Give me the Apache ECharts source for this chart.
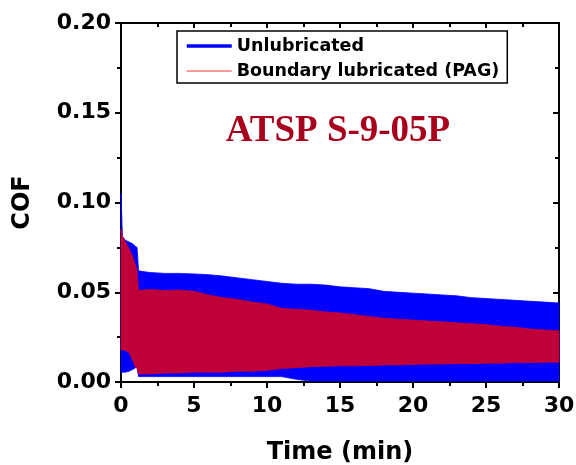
<!DOCTYPE html>
<html>
<head>
<meta charset="utf-8">
<script src="https://cdn.jsdelivr.net/npm/echarts@6/dist/echarts.min.js"></script>
<style>html,body{margin:0;padding:0;background:#fff;}#chart{width:576px;height:465px;}</style>
</head>
<body>
<div id="chart"></div>
<script>
// Time (min) sample points
var times = [0, 0.1, 0.3, 0.55, 0.8, 1.0, 1.1, 1.2, 1.5, 2, 3, 4, 5, 6, 7, 8, 9, 10, 11, 12, 13, 14, 15, 16, 17, 18, 19, 20, 21, 22, 23, 24, 25, 26, 27, 28, 29, 30];
// Unlubricated COF band (upper / lower envelope)
var unlubUpper = [0.105, 0.081, 0.079, 0.078, 0.077, 0.0755, 0.075, 0.062, 0.0615, 0.061, 0.0605, 0.0605, 0.0602, 0.0598, 0.059, 0.058, 0.057, 0.056, 0.055, 0.0545, 0.0545, 0.054, 0.053, 0.0525, 0.052, 0.0505, 0.050, 0.0495, 0.049, 0.0485, 0.048, 0.047, 0.0465, 0.046, 0.0455, 0.045, 0.0445, 0.044];
var unlubLower = [0.0055, 0.0055, 0.0055, 0.006, 0.007, 0.008, 0.008, 0.003, 0.003, 0.003, 0.003, 0.003, 0.003, 0.003, 0.003, 0.003, 0.003, 0.003, 0.003, 0.0015, 0.0005, 0.0005, 0.0005, 0.0005, 0.0005, 0.0005, 0.0005, 0.0005, 0.0005, 0.0005, 0.0005, 0.0005, 0.0005, 0.0005, 0.0005, 0.0005, 0.0005, 0.0005];
// Boundary lubricated (PAG) COF band (upper / lower envelope)
var pagUpper = [0.085, 0.081, 0.078, 0.0745, 0.070, 0.065, 0.062, 0.051, 0.0512, 0.0515, 0.051, 0.0512, 0.0505, 0.0485, 0.047, 0.046, 0.0445, 0.0435, 0.041, 0.0405, 0.040, 0.039, 0.0385, 0.0375, 0.0365, 0.0355, 0.035, 0.0345, 0.034, 0.0335, 0.033, 0.0325, 0.032, 0.031, 0.0305, 0.0295, 0.029, 0.0285];
var pagLower = [0.018, 0.0178, 0.0175, 0.0165, 0.012, 0.008, 0.008, 0.0045, 0.0045, 0.0045, 0.005, 0.005, 0.0055, 0.0055, 0.0055, 0.006, 0.006, 0.0065, 0.0075, 0.008, 0.0085, 0.0088, 0.009, 0.009, 0.0092, 0.0095, 0.0095, 0.0098, 0.01, 0.01, 0.0102, 0.0102, 0.0105, 0.0105, 0.0108, 0.0108, 0.011, 0.011];

var seriesNames = ['Unlubricated', 'Boundary lubricated (PAG)'];
var chartTitle = 'ATSP S-9-05P';
var xTitle = 'Time (min)';
var yTitle = 'COF';

var BLUE = '#0000ff', RED = '#c00038';
var font = 'DejaVu Sans';

// Band drawn as one polygon (upper envelope forward, lower envelope back), positioned via api.coord
function bandSeries(name, up, lo, color) {
  var data = times.map(function (t, i) { return [t, lo[i], up[i]]; });
  return {
    name: name, type: 'custom', silent: true, z: 2,
    encode: { x: 0, y: [1, 2] },
    data: data,
    renderItem: function (params, api) {
      if (params.dataIndex !== 0) return null;
      var pts = [];
      for (var i = 0; i < times.length; i++) pts.push(api.coord([times[i], up[i]]));
      for (var k = times.length - 1; k >= 0; k--) pts.push(api.coord([times[k], lo[k]]));
      return {
        type: 'polygon',
        shape: { points: pts },
        style: { fill: color, stroke: color, lineWidth: 0.8 }
      };
    },
    itemStyle: { color: color }
  };
}
// Empty line series that only supply the legend's line-shaped icons
function legendLine(name, color, width) {
  return { name: name, type: 'line', data: [], symbol: 'none', lineStyle: { color: color, width: width }, itemStyle: { color: color } };
}

var chart = echarts.init(document.getElementById('chart'), null, { renderer: 'canvas' });
var axisCommon = {
  axisLine: { show: true, onZero: false, lineStyle: { color: '#000', width: 2 } },
  splitLine: { show: false }
};
chart.setOption({
  animation: false,
  backgroundColor: '#fff',
  title: {
    text: chartTitle, left: 333, top: 108, textAlign: 'center',
    textStyle: { fontFamily: 'Liberation Serif', fontWeight: 'bold', fontSize: 37, color: '#a8001c' }
  },
  grid: { left: 121, right: 17, top: 23, bottom: 83, containLabel: false, outerBoundsMode: 'none' },
  legend: {
    orient: 'vertical', left: 177, top: 31,
    padding: [6, 8, 3, 8], itemGap: 7, itemWidth: 45, itemHeight: 14,
    borderColor: '#000', borderWidth: 1.5, backgroundColor: '#fff',
    textStyle: { fontFamily: font, fontWeight: 'bold', fontSize: 17.5, color: '#000' },
    data: [
      { name: seriesNames[0], itemStyle: { opacity: 0 }, lineStyle: { color: BLUE, width: 3.5, opacity: 1 } },
      { name: seriesNames[1], itemStyle: { opacity: 0 }, lineStyle: { color: '#ff3030', width: 1, opacity: 1 } }
    ]
  },
  xAxis: [
    Object.assign({
      type: 'value', min: 0, max: 30, interval: 5, position: 'bottom',
      name: xTitle, nameLocation: 'middle', nameGap: 59,
      nameTextStyle: { fontFamily: font, fontWeight: 'bold', fontSize: 24, color: '#000' },
      axisTick: { show: true, inside: false, length: 6, lineStyle: { color: '#000', width: 2 } },
      minorTick: { show: true, splitNumber: 2, length: 4, lineStyle: { color: '#000', width: 2 } },
      axisLabel: { fontFamily: font, fontWeight: 'bold', fontSize: 22, color: '#000', margin: 13 }
    }, axisCommon),
    Object.assign({
      type: 'value', min: 0, max: 30, interval: 5, position: 'top',
      axisTick: { show: true, inside: true, length: 5, lineStyle: { color: '#000', width: 2 } },
      minorTick: { show: true, splitNumber: 2, length: 4, lineStyle: { color: '#000', width: 2 } },
      axisLabel: { show: false }
    }, axisCommon)
  ],
  yAxis: [
    Object.assign({
      type: 'value', min: 0, max: 0.2, interval: 0.05, position: 'left',
      name: yTitle, nameLocation: 'middle', nameGap: 86,
      nameTextStyle: { fontFamily: font, fontWeight: 'bold', fontSize: 24, color: '#000' },
      axisTick: { show: true, inside: false, length: 6, lineStyle: { color: '#000', width: 2 } },
      minorTick: { show: true, splitNumber: 2, length: 4, lineStyle: { color: '#000', width: 2 } },
      axisLabel: { fontFamily: font, fontWeight: 'bold', fontSize: 22, color: '#000', margin: 10,
        formatter: function (v) { return v.toFixed(2); } }
    }, axisCommon),
    Object.assign({
      type: 'value', min: 0, max: 0.2, interval: 0.05, position: 'right',
      axisTick: { show: true, inside: true, length: 6, lineStyle: { color: '#000', width: 2 } },
      minorTick: { show: true, splitNumber: 2, length: 4, lineStyle: { color: '#000', width: 2 } },
      axisLabel: { show: false }
    }, axisCommon)
  ],
  series: [
    legendLine(seriesNames[0], BLUE, 3.5),
    legendLine(seriesNames[1], '#ff3030', 1),
    bandSeries(seriesNames[0], unlubUpper, unlubLower, BLUE),
    bandSeries(seriesNames[1], pagUpper, pagLower, RED)
  ]
});
</script>
</body>
</html>
